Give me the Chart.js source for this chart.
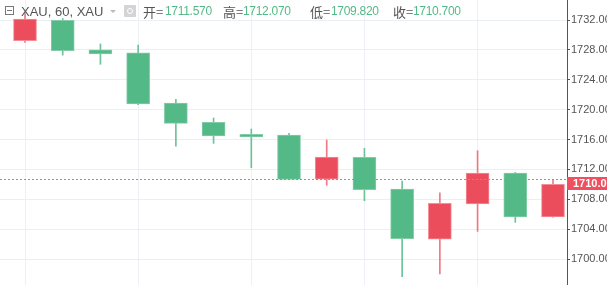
<!DOCTYPE html>
<html lang="zh">
<head>
<meta charset="UTF-8">
<title>XAU, 60</title>
<script src="https://cdn.jsdelivr.net/npm/chart.js"></script>
<style>
    body { margin: 0; background: #fff; }
    #wrap { position: relative; width: 607px; height: 285px; overflow: hidden; }
    #header {
        position: absolute; left: 0; top: 0; width: 567px; height: 22px;
        font-family: Arial, "Liberation Sans", "Noto Sans CJK SC", sans-serif;
        color: #555; pointer-events: none;
    }
    #header span { position: absolute; top: 3px; line-height: 17px; white-space: nowrap; }
    .sym { font-size: 13px; }
    .lbl { font-size: 13px; font-family: "Noto Sans CJK SC", sans-serif; }
    .val { font-size: 12px; letter-spacing: -0.3px; color: #53b987; }
    #box { position: absolute; left: 5px; top: 6px; width: 7px; height: 7px; border: 1px solid #777; }
    #box::after { content: ""; position: absolute; left: 1px; right: 1px; top: 3px; height: 1px; background: #777; }
    #arrow { position: absolute; left: 110px; top: 10px; width: 0; height: 0;
        border-left: 3px solid transparent; border-right: 3px solid transparent; border-top: 3px solid #bbb; }
    #eye { position: absolute; left: 124px; top: 5px; width: 12px; height: 12px; background: #d4d4d4; border-radius: 1px; }
    #eye::after { content: ""; position: absolute; left: 3px; top: 3px; width: 4px; height: 4px;
        border: 1px solid #fff; border-radius: 50%; }
</style>
</head>
<body>
<div id="wrap">
    <canvas id="chart" width="607" height="285"></canvas>
    <div id="header">
        <div id="box"></div>
        <span class="sym" style="left:21px">XAU, 60, XAU</span>
        <div id="arrow"></div>
        <div id="eye"></div>
        <span class="lbl" style="left:143px">开=</span>
        <span class="val" style="left:165px">1711.570</span>
        <span class="lbl" style="left:223px">高=</span>
        <span class="val" style="left:243px">1712.070</span>
        <span class="lbl" style="left:310px">低=</span>
        <span class="val" style="left:331px">1709.820</span>
        <span class="lbl" style="left:393px">收=</span>
        <span class="val" style="left:413px">1710.700</span>
    </div>
</div>
<script>
    // 每根K线的开高低收（60分钟）
    const opens  = [1729.23, 1731.96, 1728.00, 1727.62, 1720.89, 1718.30, 1716.70, 1716.60, 1710.71, 1713.62, 1709.38, 1702.68, 1707.37, 1711.52, 1705.63];
    const highs  = [1733.00, 1732.20, 1728.80, 1728.65, 1721.38, 1718.88, 1717.41, 1716.83, 1715.94, 1714.82, 1710.45, 1708.88, 1714.50, 1711.60, 1710.67];
    const lows   = [1729.00, 1727.30, 1726.07, 1720.67, 1715.13, 1715.49, 1712.23, 1710.67, 1709.87, 1707.81, 1697.64, 1698.00, 1703.71, 1704.92, 1705.60];
    const closes = [1732.13, 1727.89, 1727.45, 1720.76, 1718.17, 1716.47, 1716.34, 1710.67, 1713.66, 1709.28, 1702.72, 1707.46, 1711.52, 1705.63, 1710.01];
    const yTicks = [1700, 1704, 1708, 1712, 1716, 1720, 1724, 1728, 1732];
    const xGridAt = [0, 3, 6, 9, 12];
    const lastPrice = 1710.01;
    const refLine = 1710.70;

    const UP = '#eb4d5c', DOWN = '#53b987';
    const isUp = closes.map((c, i) => c >= opens[i]);

    const bodies = opens.map((o, i) => ({ x: i, y: [o, closes[i]] }));
    const wicks = lows.map((l, i) => ({ x: i, y: [l, highs[i]] }));

    // 价格虚线和右侧最新价标签
    const priceMarks = {
        id: 'priceMarks',
        afterDatasetsDraw(chart) {
            const { ctx, chartArea } = chart;
            const y = chart.scales.y;
            const ly = Math.round(y.getPixelForValue(refLine)) + 0.5;
            ctx.save();
            ctx.strokeStyle = '#53b987';
            ctx.lineWidth = 1;
            ctx.setLineDash([2, 2]);
            ctx.beginPath();
            ctx.moveTo(chartArea.left, ly);
            ctx.lineTo(chartArea.right, ly);
            ctx.stroke();
            ctx.restore();
        },
        afterDraw(chart) {
            const { ctx, chartArea } = chart;
            const py = chart.scales.y.getPixelForValue(lastPrice);
            ctx.save();
            ctx.fillStyle = '#ef4f5f';
            ctx.fillRect(chartArea.right, Math.round(py) - 7, 45, 13);
            ctx.fillStyle = '#fff';
            ctx.font = 'bold 11px Arial, "Liberation Sans", sans-serif';
            ctx.textBaseline = 'middle';
            ctx.fillText(lastPrice.toFixed(2), chartArea.right + 6, Math.round(py));
            ctx.restore();
        }
    };

    new Chart(document.getElementById('chart'), {
        type: 'bar',
        data: {
            datasets: [
                {
                    data: bodies,
                    grouped: false,
                    barThickness: 23,
                    backgroundColor: isUp.map(u => u ? UP : DOWN),
                    borderColor: isUp.map(u => u ? 'rgba(245,140,150,1)' : 'rgba(130,205,168,1)'),
                    borderWidth: 1,
                    borderSkipped: false
                },
                {
                    data: wicks,
                    grouped: false,
                    barThickness: 1,
                    backgroundColor: isUp.map(u => u ? 'rgba(235,77,92,0.75)' : 'rgba(83,185,135,0.85)'),
                    borderWidth: 0
                }
            ]
        },
        options: {
            responsive: false,
            animation: false,
            layout: { padding: 0 },
            plugins: { legend: { display: false }, tooltip: { enabled: false } },
            scales: {
                x: {
                    type: 'linear',
                    offset: false,
                    min: -0.663,
                    max: 14.371,
                    afterBuildTicks: s => { s.ticks = xGridAt.map(v => ({ value: v })); },
                    afterFit: s => { s.height = 0; s.paddingLeft = 0; s.paddingRight = 0; },
                    ticks: { display: false },
                    border: { display: false },
                    grid: { color: '#edf1f5', drawTicks: false, offset: false }
                },
                y: {
                    position: 'right',
                    min: 1696.53,
                    max: 1734.68,
                    afterBuildTicks: s => { s.ticks = yTicks.map(v => ({ value: v })); },
                    afterFit: s => { s.width = 40; s.paddingTop = 0; s.paddingBottom = 0; },
                    border: { display: true, color: '#555' },
                    grid: { color: '#e9eff3', tickColor: '#555', tickLength: 3 },
                    ticks: {
                        padding: 1,
                        color: '#555',
                        font: { family: 'Arial, "Liberation Sans", sans-serif', size: 11 },
                        callback: v => v.toFixed(2)
                    }
                }
            }
        },
        plugins: [priceMarks]
    });
</script>
</body>
</html>
